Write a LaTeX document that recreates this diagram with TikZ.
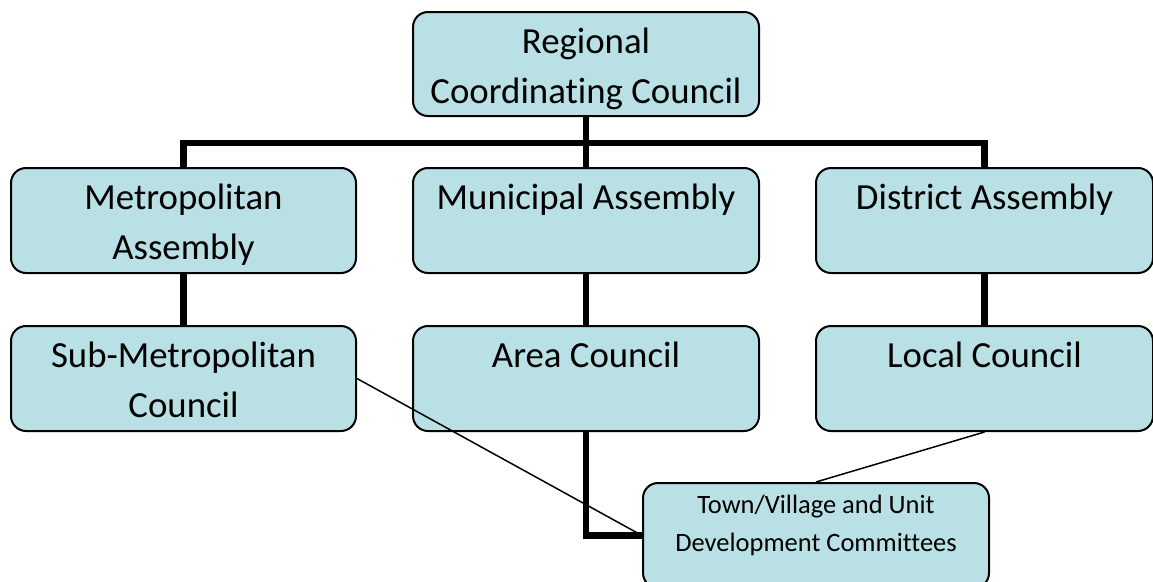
\documentclass[tikz,border=0pt]{standalone}
\usepackage{fontspec}
\setmainfont[Ligatures=NoCommon]{Carlito}
\definecolor{boxfill}{RGB}{185,224,228}
\newcommand\bigtext[3]{\parbox[t][#1pt][t]{#2pt}{\centering\fontsize{36.8}{50}\selectfont\rule{0pt}{41pt}#3\par}}
\newcommand\smalltext[3]{\parbox[t][#1pt][t]{#2pt}{\centering\fontsize{26.5}{38}\selectfont\rule{0pt}{30pt}#3\par}}
\tikzset{
  orgbox/.style={draw=black, line width=2pt, fill=boxfill, rounded corners=15pt, inner sep=0pt, anchor=north west},
  trunk/.style={line width=6.5pt},
  twig/.style={line width=1.5pt}
}
\begin{document}
\begin{tikzpicture}[x=1pt,y=-1pt]
\clip (0,0) rectangle (1153,581);
\fill[white] (0,0) rectangle (1153,581);
\coordinate (bar) at (585,143);
% boxes
\node[orgbox] (rcc) at (412,11) {\bigtext{104}{346}{Regional\\Coordinating Council}};
\node[orgbox] (met) at (10,167) {\bigtext{105}{345}{Metropolitan\\Assembly}};
\node[orgbox] (mun) at (412,167) {\bigtext{105}{346}{Municipal Assembly}};
\node[orgbox] (dist) at (815,167) {\bigtext{105}{337}{District Assembly}};
\node[orgbox] (sub) at (10,325) {\bigtext{105}{345}{Sub-Metropolitan\\Council}};
\node[orgbox] (area) at (412,325) {\bigtext{105}{346}{Area Council}};
\node[orgbox] (loc) at (815,325) {\bigtext{105}{337}{Local Council}};
\node[orgbox] (town) at (642,482) {\smalltext{105}{346}{Town/Village and Unit\\Development Committees}};
% connectors
\draw[trunk] (rcc.south) -- (mun.north);
\draw[trunk] (met.north) |- (bar) -| (dist.north);
\draw[trunk] (met.south) -- (sub.north);
\draw[trunk] (mun.south) -- (area.north);
\draw[trunk] (dist.south) -- (loc.north);
\draw[trunk] (area.south) |- (town.west);
\draw[twig] (sub.east) -- (town.west);
\draw[twig] (loc.south) -- (town.north);
\end{tikzpicture}
\end{document}
